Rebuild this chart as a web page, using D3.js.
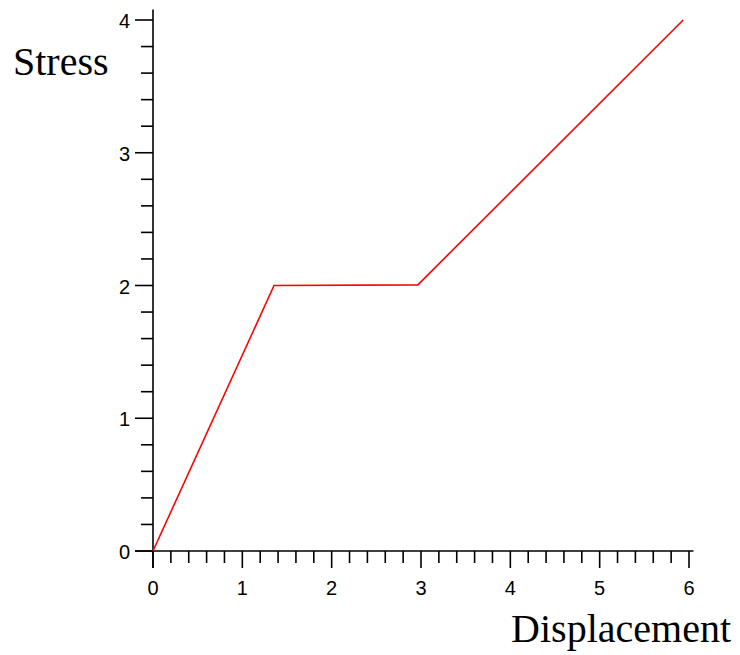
<!DOCTYPE html>
<html><head><meta charset="utf-8">
<script src="https://cdn.jsdelivr.net/npm/d3@7"></script>
<style>body{margin:0;background:#fff}</style>
</head><body>
<svg id="c" width="740" height="655"></svg>
<script>
const displacement = [0, 1.355, 2.965, 5.935];
const stress = [0, 2.0, 2.005, 4.0];
const xTicks = [0, 1, 2, 3, 4, 5, 6];
const yTicks = [0, 1, 2, 3, 4];
const xLabel = "Displacement";
const yLabel = "Stress";

const svg = d3.select("#c");
const x = d3.scaleLinear().domain([0, 6]).range([153, 689]);
const y = d3.scaleLinear().domain([0, 4]).range([551, 20]);

const xMinor = d3.range(0, 6.01, 0.2).map(v => +v.toFixed(2)).filter(v => Math.abs(v - Math.round(v)) > 1e-6);
const yMinor = d3.range(0, 4.01, 0.2).map(v => +v.toFixed(2)).filter(v => Math.abs(v - Math.round(v)) > 1e-6);

const g = svg.append("g").attr("stroke", "#000").attr("stroke-width", 1.6);
g.append("line").attr("x1", x(0)).attr("x2", x(0)).attr("y1", y(4.08)).attr("y2", y(0)+17);
g.append("line").attr("x1", x(0)-18).attr("x2", x(6.05)).attr("y1", y(0)).attr("y2", y(0));
g.selectAll(".xM").data(xTicks).join("line").attr("x1", d=>x(d)).attr("x2", d=>x(d)).attr("y1", y(0)).attr("y2", y(0)+17);
g.selectAll(".xm").data(xMinor).join("line").attr("x1", d=>x(d)).attr("x2", d=>x(d)).attr("y1", y(0)).attr("y2", y(0)+12);
g.selectAll(".yM").data(yTicks).join("line").attr("y1", d=>y(d)).attr("y2", d=>y(d)).attr("x1", x(0)).attr("x2", x(0)-18);
g.selectAll(".ym").data(yMinor).join("line").attr("y1", d=>y(d)).attr("y2", d=>y(d)).attr("x1", x(0)).attr("x2", x(0)-12);

const lab = svg.append("g").attr("font-family", "Liberation Sans, Arial, sans-serif").attr("font-size", 20).attr("fill", "#000");
lab.selectAll(".xl").data(xTicks).join("text").attr("x", d=>x(d)).attr("y", y(0)+44).attr("text-anchor", "middle").text(d=>d);
lab.selectAll(".yl").data(yTicks).join("text").attr("x", x(0)-23).attr("y", d=>y(d)+8).attr("text-anchor", "end").text(d=>d);

svg.append("text").attr("x", 731).attr("y", 642).attr("text-anchor", "end")
  .attr("font-family", "Liberation Serif, Times New Roman, serif").attr("font-size", 40).text(xLabel);
svg.append("text").attr("x", 13).attr("y", 75)
  .attr("font-family", "Liberation Serif, Times New Roman, serif").attr("font-size", 40).text(yLabel);

const line = d3.line().x((d,i)=>x(displacement[i])).y(d=>y(d));
svg.append("path").datum(stress).attr("d", line).attr("fill", "none").attr("stroke", "#f00").attr("stroke-width", 1.6);
</script>
</body></html>
